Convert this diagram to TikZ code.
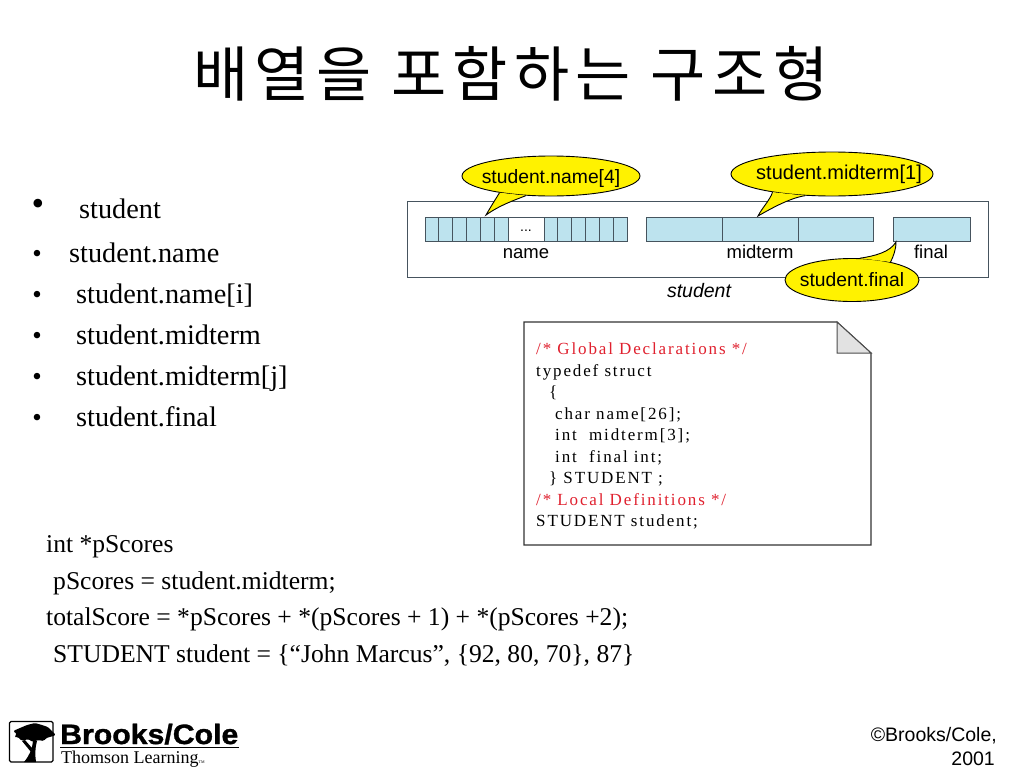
\documentclass[tikz,border=0pt]{standalone}
\usepackage{fontspec}
\setmainfont{Liberation Serif}
\setsansfont{Liberation Sans}
\newfontfamily\cjk[LetterSpace=10.5]{Noto Sans CJK KR}
\newfontfamily\codefont[LetterSpace=11]{Liberation Serif}
\newfontfamily\brandfont[FakeStretch=1.08,FakeBold=1.2]{Liberation Sans Bold}
\usetikzlibrary{positioning, calc, shapes.geometric}
\definecolor{cellblue}{HTML}{BDE3EE}
\definecolor{calloutyellow}{HTML}{FFF200}
\definecolor{foldgray}{HTML}{E2E2E2}
\definecolor{commentred}{HTML}{E0202E}
\definecolor{celledge}{HTML}{46545E}

\tikzset{
    item/.style={anchor=base west,inner sep=0pt,font=\fontsize{28.3}{28.3}\selectfont},
    bigdot/.style={anchor=base,inner sep=0pt,font=\fontsize{27}{27}\selectfont},
    codeline/.style={anchor=base west,inner sep=0pt,font=\fontsize{25.6}{25.6}\selectfont},
    listing/.style={anchor=base west,inner sep=0pt,font=\codefont\fontsize{17}{17}\selectfont},
    comment/.style={listing,text=commentred},
    cell/.style={draw=celledge,fill=cellblue,line width=1pt},
    fieldname/.style={anchor=base,inner sep=0pt,font=\sffamily\fontsize{18.5}{18.5}\selectfont},
    bubble/.style={ellipse,draw=black,fill=calloutyellow,line width=.9pt,inner xsep=-25pt,inner ysep=0pt,
        font=\sffamily\fontsize{19.3}{19.3}\selectfont},
    tail/.style={draw=black,fill=calloutyellow,line width=.9pt},
}

\begin{document}
\begin{tikzpicture}[x=1pt,y=-1pt]
    \useasboundingbox (0,0) rectangle (1024,768);

    \node[inner sep=0pt,font=\cjk\fontsize{60}{60}\selectfont] (title) at (511,74) {배열을 포함하는 구조형};

    % bullets
    \node[bigdot,font=\fontsize{36}{36}\selectfont] (b0) at (38,215) {•};
    \node[item] (i0) at (79,218) {student};
    \node[bigdot] (b1) at (37,262) {•};
    \node[item] (i1) at (69,262) {student.name};
    \node[bigdot] (b2) at (37,303) {•};
    \node[item] (i2) at (76,303) {student.name[i]};
    \node[bigdot] (b3) at (37,344) {•};
    \node[item] (i3) at (76,344) {student.midterm};
    \node[bigdot] (b4) at (37,385) {•};
    \node[item] (i4) at (76,385) {student.midterm[j]};
    \node[bigdot] (b5) at (37,426) {•};
    \node[item] (i5) at (76,426) {student.final};

    % code below
    \node[codeline] (c0) at (46,552) {int *pScores};
    \node[codeline] (c1) at (53,589) {pScores = student.midterm;};
    \node[codeline] (c2) at (46,625) {totalScore = *pScores + *(pScores + 1) + *(pScores +2);};
    \node[codeline] (c3) at (53,662) {STUDENT student = \{“John Marcus”, \{92, 80, 70\}, 87\}};

    % structure
    \draw[celledge,line width=1pt,fill=white] (407,201) rectangle (988,277);
    \foreach \x in {0,...,5} {
        \draw[cell] ({425+13.85*\x},217) rectangle ++(13.85,24);
        \draw[cell] ({544+13.85*\x},217) rectangle ++(13.85,24);
    }
    \draw[celledge,line width=1pt] (508,217) -- (544,217) (508,241) -- (544,241);
    \node[inner sep=0pt,font=\sffamily\fontsize{14}{14}\selectfont] (dots) at (526,231) {...};
    \draw[cell] (646,217) rectangle (722,241);
    \draw[cell] (722,217) rectangle (798,241);
    \draw[cell] (798,217) rectangle (873,241);
    \draw[cell] (893,217) rectangle (970,241);

    \node[fieldname] (name) at (526,258) {name};
    \node[fieldname] (midterm) at (760,258) {midterm};
    \node[fieldname] (final) at (931,258) {final};
    \node[anchor=base,inner sep=0pt,font=\sffamily\itshape\fontsize{19.5}{19.5}\selectfont] (student) at (699,297) {student};

    % bubbles
    \node[bubble,minimum width=178pt,minimum height=40pt] (nameb) at (551,176) {\raisebox{-3pt}[\height][\depth]{student.name[4]}};
    \coordinate (nametip) at (486,215);
    \path[tail] (nameb.198) .. controls (495,200) and (490,208) .. (nametip) .. controls (500,205) and (515,200) .. (nameb.218);

    \node[bubble,minimum width=202pt,minimum height=44pt,font=\sffamily\fontsize{20}{20}\selectfont] (midb) at (832,174) {\hspace*{14pt}student.midterm[1]};
    \coordinate (midtip) at (758,216);
    \path[tail] (midb.197) .. controls (770,200) and (762,208) .. (midtip) .. controls (772,208) and (790,198) .. (midb.219);

    \node[bubble,minimum width=134pt,minimum height=43pt] (finalb) at (852,280) {student.final};
    \coordinate (finaltip) at (896,242);
    \path[tail] (finalb.70) .. controls (875,256) and (890,252) .. (finaltip) .. controls (896,250) and (893,257) .. (finalb.25);

    % listing
    \draw[black!80,line width=1.1pt,fill=white] (524,322) -- (837,322) -- (871,353) -- (871,545) -- (524,545) -- cycle;
    \draw[black!70,line width=1pt,fill=foldgray] (837,322) -- (871,353) -- (837,353) -- cycle;
    \node[comment] (l0) at (536,354) {/* Global Declarations */};
    \node[listing] (l1) at (536,376) {typedef struct};
    \node[listing] (l2) at (549,397) {\{};
    \node[listing] (l3) at (555,419) {char name[26];};
    \node[listing] (l4) at (555,440) {int\ \ midterm[3];};
    \node[listing] (l5) at (555,462) {int\ \ final int;};
    \node[listing] (l6) at (549,483) {\} STUDENT ;};
    \node[comment] (l7) at (536,505) {/* Local Definitions */};
    \node[listing] (l8) at (536,526) {STUDENT student;};

    % logo
    \draw[black,line width=1.2pt,rounded corners=1.5pt] (9.5,721.5) rectangle (53,762);
    \fill[black] (24,762) .. controls (29,756) and (32,750) .. (33,741) -- (37,741) .. controls (35,748) and (35,755) .. (36,762) -- cycle;
    \fill[black] (31,752) -- (22,741) -- (25,740) -- (32,748) -- cycle;
    \fill[black,rounded corners=1.5pt] (13,731) -- (20,728) -- (27,725) -- (35,723) -- (42,725) -- (48,727) -- (52,731) -- (56,735) -- (50,737) -- (46,738) -- (44,741) -- (38,740) -- (33,742) -- (28,739) -- (22,741) -- (18,737) -- (14,737) -- (17,734) -- cycle;
    \node[anchor=base west,inner sep=0pt,font=\brandfont\fontsize{28}{28}\selectfont] (brand) at (60,744) {Brooks/Cole};
    \draw[black,line width=1.3pt] (60,747.5) -- (239,747.5);
    \node[anchor=base west,inner sep=0pt,font=\fontsize{18}{18}\selectfont] (thomson) at (61,763) {Thomson Learning\raisebox{0pt}{\fontsize{4}{4}\selectfont TM}};

    \node[anchor=base east,inner sep=0pt,font=\sffamily\fontsize{19.5}{25}\selectfont] (copy) at (997,741) {©Brooks/Cole,};
    \node[anchor=base east,inner sep=0pt,font=\sffamily\fontsize{19.5}{25}\selectfont] (year) at (995,765) {2001};
\end{tikzpicture}
\end{document}
